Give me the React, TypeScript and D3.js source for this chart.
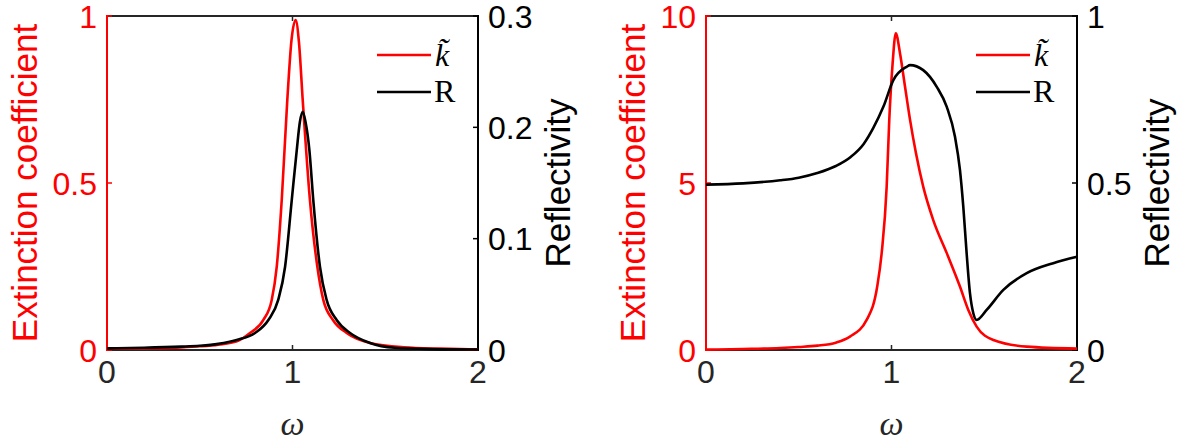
import React from "react";
import * as d3 from "d3";

// ---------- data ----------
const omegaTicks = [0, 1, 2];

// Left panel
const leftKOmega = [0, 0.2, 0.4, 0.5, 0.6, 0.7, 0.771, 0.843, 0.888, 0.915, 0.942, 0.972, 0.995, 1.017, 1.035, 1.055, 1.094, 1.134, 1.166, 1.218, 1.292, 1.418, 1.6, 1.8, 2.0];
const leftKValues = [0.003, 0.005, 0.008, 0.011, 0.016, 0.026, 0.051, 0.09, 0.15, 0.249, 0.449, 0.749, 0.93, 0.988, 0.92, 0.749, 0.449, 0.249, 0.15, 0.09, 0.051, 0.021, 0.008, 0.004, 0.002];
const leftROmega = [0, 0.2, 0.4, 0.5, 0.6, 0.699, 0.798, 0.87, 0.923, 0.96, 0.996, 1.023, 1.04, 1.055, 1.07, 1.091, 1.112, 1.148, 1.184, 1.238, 1.31, 1.418, 1.55, 1.75, 2.0];
const leftRValues = [0.0015, 0.002, 0.003, 0.0038, 0.0055, 0.009, 0.0153, 0.027, 0.045, 0.0748, 0.1347, 0.1796, 0.205, 0.214, 0.205, 0.1796, 0.1347, 0.0748, 0.045, 0.027, 0.0153, 0.0063, 0.002, 0.0008, 0.0004];
const leftKTicks = [0, 0.5, 1];
const leftKTickLabels = ["0", "0.5", "1"];
const leftRTicks = [0, 0.1, 0.2, 0.3];
const leftRTickLabels = ["0", "0.1", "0.2", "0.3"];

// Right panel
const rightKOmega = [0, 0.2, 0.4, 0.5, 0.6, 0.7, 0.776, 0.866, 0.923, 0.947, 0.974, 0.988, 1.005, 1.023, 1.046, 1.073, 1.1, 1.132, 1.171, 1.225, 1.298, 1.369, 1.414, 1.459, 1.549, 1.729, 2.0];
const rightKValues = [0.01, 0.03, 0.06, 0.09, 0.13, 0.22, 0.4, 0.9, 1.9, 2.9, 4.89, 6.89, 8.5, 9.48, 8.88, 7.88, 6.89, 5.89, 4.89, 3.89, 2.9, 1.9, 1.2, 0.7, 0.3, 0.1, 0.04];
const rightROmega = [0, 0.2, 0.4, 0.5, 0.6, 0.7, 0.78, 0.85, 0.902, 0.956, 1.01, 1.082, 1.1, 1.171, 1.244, 1.298, 1.342, 1.369, 1.387, 1.405, 1.423, 1.441, 1.459, 1.513, 1.603, 1.729, 1.872, 2.0];
const rightRValues = [0.495, 0.499, 0.508, 0.516, 0.53, 0.551, 0.578, 0.617, 0.665, 0.728, 0.808, 0.848, 0.853, 0.838, 0.788, 0.728, 0.639, 0.539, 0.429, 0.29, 0.17, 0.11, 0.09, 0.12, 0.18, 0.23, 0.26, 0.279];
const rightKTicks = [0, 5, 10];
const rightKTickLabels = ["0", "5", "10"];
const rightRTicks = [0, 0.5, 1];
const rightRTickLabels = ["0", "0.5", "1"];

const yLabelLeft = "Extinction coefficient";
const yLabelRight = "Reflectivity";
const xLabel = "ω";
const legendK = "k\u0303";
const legendR = "R";

const RED = "#ff0000";
const BLACK = "#000000";
const SANS = "'Liberation Sans', Arial, Helvetica, sans-serif";
const SERIF = "'Liberation Serif', 'DejaVu Serif', serif";

type PanelProps = {
  x0: number;
  kOmega: number[];
  kValues: number[];
  rOmega: number[];
  rValues: number[];
  kMax: number;
  rMax: number;
  kTicks: number[];
  kTickLabels: string[];
  rTicks: number[];
  rTickLabels: string[];
  leftLabelOffset: number;
};

const Panel: React.FC<PanelProps> = (p) => {
  const top = 16;
  const bottom = 350;
  const width = 371;
  const x = d3.scaleLinear().domain([0, 2]).range([p.x0, p.x0 + width]);
  const yK = d3.scaleLinear().domain([0, p.kMax]).range([bottom, top]);
  const yR = d3.scaleLinear().domain([0, p.rMax]).range([bottom, top]);
  const kData = p.kOmega.map((w, i) => [w, p.kValues[i]] as [number, number]);
  const rData = p.rOmega.map((w, i) => [w, p.rValues[i]] as [number, number]);
  const kLine = d3
    .line<[number, number]>()
    .x((d) => x(d[0]))
    .y((d) => yK(d[1]))
    .curve(d3.curveMonotoneX);
  const rLine = d3
    .line<[number, number]>()
    .x((d) => x(d[0]))
    .y((d) => yR(d[1]))
    .curve(d3.curveMonotoneX);
  const xl = p.x0;
  const xr = p.x0 + width;
  const tickLen = 5;
  const cx = (xl + xr) / 2;
  const legX = xr - 101;
  const tickFont = 32;
  return (
    <g>
      {/* box */}
      <line x1={xl} x2={xr} y1={top} y2={top} stroke="#262626" strokeWidth={2} />
      <line x1={xl} x2={xr} y1={bottom} y2={bottom} stroke="#262626" strokeWidth={2} />
      {/* x ticks */}
      {omegaTicks.map((t) => (
        <g key={"xt" + t}>
          <line x1={x(t)} x2={x(t)} y1={bottom} y2={bottom - tickLen} stroke="#262626" strokeWidth={1.5} />
          <line x1={x(t)} x2={x(t)} y1={top} y2={top + tickLen} stroke="#262626" strokeWidth={1.5} />
          <text x={x(t)} y={383} textAnchor="middle" fontFamily={SANS} fontSize={tickFont} fill="#262626">
            {String(t)}
          </text>
        </g>
      ))}
      {/* left axis */}
      <line x1={xl} x2={xl} y1={top - 1} y2={bottom + 1} stroke={RED} strokeWidth={2} />
      {p.kTicks.map((t, i) => (
        <g key={"kt" + t}>
          <line x1={xl} x2={xl + tickLen} y1={yK(t)} y2={yK(t)} stroke={RED} strokeWidth={1.5} />
          <text x={xl - 10} y={yK(t) + 11.5} textAnchor="end" fontFamily={SANS} fontSize={tickFont} fill={RED}>
            {p.kTickLabels[i]}
          </text>
        </g>
      ))}
      {/* right axis */}
      <line x1={xr} x2={xr} y1={top - 1} y2={bottom + 1} stroke={BLACK} strokeWidth={2} />
      {p.rTicks.map((t, i) => (
        <g key={"rt" + t}>
          <line x1={xr} x2={xr - tickLen} y1={yR(t)} y2={yR(t)} stroke={BLACK} strokeWidth={1.5} />
          <text x={xr + 10} y={yR(t) + 11.5} textAnchor="start" fontFamily={SANS} fontSize={tickFont} fill={BLACK}>
            {p.rTickLabels[i]}
          </text>
        </g>
      ))}
      {/* curves */}
      <path d={kLine(kData) || ""} fill="none" stroke={RED} strokeWidth={2.6} strokeLinejoin="round" />
      <path d={rLine(rData) || ""} fill="none" stroke={BLACK} strokeWidth={2.6} strokeLinejoin="round" />
      {/* axis labels */}
      <text
        transform={`translate(${xl - p.leftLabelOffset},${(top + bottom) / 2}) rotate(-90)`}
        textAnchor="middle"
        fontFamily={SANS}
        fontSize={35}
        fill={RED}
      >
        {yLabelLeft}
      </text>
      <text
        transform={`translate(${xr + 92},${(top + bottom) / 2}) rotate(-90)`}
        textAnchor="middle"
        fontFamily={SANS}
        fontSize={35}
        fill={BLACK}
      >
        {yLabelRight}
      </text>
      <text x={cx} y={435} textAnchor="middle" fontFamily={SERIF} fontStyle="italic" fontSize={34} fill="#262626">
        {xLabel}
      </text>
      {/* legend */}
      <line x1={legX} x2={legX + 54} y1={55} y2={55} stroke={RED} strokeWidth={2.6} />
      <text x={legX + 58} y={66} fontFamily={SERIF} fontStyle="italic" fontSize={32} fill={BLACK}>
        {legendK}
      </text>
      <line x1={legX} x2={legX + 54} y1={92} y2={92} stroke={BLACK} strokeWidth={2.6} />
      <text x={legX + 57} y={102} fontFamily={SERIF} fontSize={32} fill={BLACK}>
        {legendR}
      </text>
    </g>
  );
};

export default function App() {
  return (
    <svg
      width={1185}
      height={444}
      style={{ position: "absolute", left: 0, top: 0, background: "#fff" }}
    >
      <rect x={0} y={0} width={1185} height={444} fill="#fff" />
      <Panel
        x0={107}
        kOmega={leftKOmega}
        kValues={leftKValues}
        rOmega={leftROmega}
        rValues={leftRValues}
        kMax={1}
        rMax={0.3}
        kTicks={leftKTicks}
        kTickLabels={leftKTickLabels}
        rTicks={leftRTicks}
        rTickLabels={leftRTickLabels}
        leftLabelOffset={70}
      />
      <Panel
        x0={706}
        kOmega={rightKOmega}
        kValues={rightKValues}
        rOmega={rightROmega}
        rValues={rightRValues}
        kMax={10}
        rMax={1}
        kTicks={rightKTicks}
        kTickLabels={rightKTickLabels}
        rTicks={rightRTicks}
        rTickLabels={rightRTickLabels}
        leftLabelOffset={61}
      />
    </svg>
  );
}
